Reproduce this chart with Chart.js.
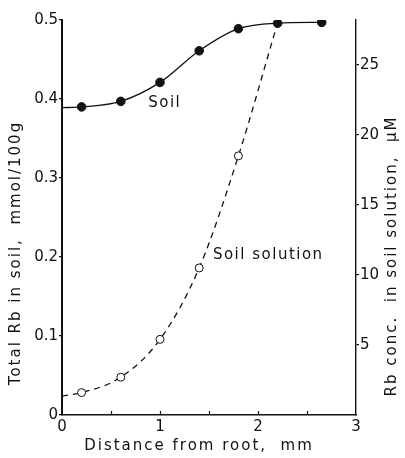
<!DOCTYPE html>
<html><head><meta charset="utf-8">
<script src="https://cdn.jsdelivr.net/npm/chart.js@4/dist/chart.umd.min.js"></script>
<style>html,body{margin:0;padding:0;background:#fff}#wrap{width:405px;height:458px}</style>
</head><body><div id="wrap"><canvas id="c" width="405" height="458"></canvas></div>
<script>
// Data
const soilDistance = [0, 0.2, 0.6, 1.0, 1.4, 1.8, 2.2, 2.65];
const soilTotal = [0.389, 0.390, 0.397, 0.421, 0.461, 0.489, 0.496, 0.497]; // mmol/100g
const solutionDistance = [0, 0.2, 0.6, 1.0, 1.4, 1.8, 2.2];
const solutionConc = [1.35, 1.6, 2.7, 5.4, 10.5, 18.5, 28.0]; // µM
const xTicks = [0, 1, 2, 3];
const leftTicks = [0, 0.1, 0.2, 0.3, 0.4, 0.5];
const rightTicks = [5, 10, 15, 20, 25];
const xTitle = 'Distance from root,  mm';
const leftTitle = 'Total Rb in soil,  mmol/100g';
const rightTitle = 'Rb conc.  in soil solution,  \u00b5M';
const labelSoil = 'Soil';
const labelSolution = 'Soil solution';

const FONT = '"DejaVu Sans", sans-serif';
const INK = '#111';

const helper = {
  id: 'helper',
  beforeInit(chart) { chart.ctx.letterSpacing = '1px'; },
  afterDraw(chart) {
    const ctx = chart.ctx, x = chart.scales.x, y = chart.scales.y;
    ctx.save();
    // inward minor ticks on x axis
    ctx.strokeStyle = INK; ctx.lineWidth = 1.2;
    [0.5, 1, 1.5, 2, 2.5].forEach(v => {
      const px = Math.round(x.getPixelForValue(v)) + 0.5;
      ctx.beginPath(); ctx.moveTo(px, y.bottom); ctx.lineTo(px, y.bottom - 4); ctx.stroke();
    });
    ctx.fillStyle = INK;
    ctx.letterSpacing = '1.5px';
    ctx.font = '15px ' + FONT;
    ctx.textBaseline = 'middle';
    ctx.textAlign = 'left';
    ctx.fillText(labelSoil, x.getPixelForValue(0.88), y.getPixelForValue(0.395));
    ctx.fillText(labelSolution, x.getPixelForValue(1.54), y.getPixelForValue(0.203));
    // axis titles
    ctx.letterSpacing = '2px';
    ctx.textAlign = 'center';
    ctx.fillText(xTitle, 199, 446);
    ctx.save();
    ctx.translate(16, 253); ctx.rotate(-Math.PI / 2);
    ctx.fillText(leftTitle, 0, 0);
    ctx.restore();
    ctx.save();
    ctx.translate(392, 256); ctx.rotate(-Math.PI / 2);
    ctx.fillText(rightTitle, 0, 0);
    ctx.restore();
    ctx.restore();
  }
};

new Chart(document.getElementById('c'), {
  type: 'line',
  data: {
    datasets: [
      {
        label: labelSoil,
        data: soilDistance.map((d, i) => ({x: d, y: soilTotal[i]})),
        yAxisID: 'y',
        borderColor: INK, borderWidth: 1.3,
        pointRadius: soilDistance.map((d, i) => i === 0 ? 0 : 4.3),
        pointBackgroundColor: INK, pointBorderColor: INK, pointBorderWidth: 1,
        cubicInterpolationMode: 'monotone', fill: false
      },
      {
        label: labelSolution,
        data: solutionDistance.map((d, i) => ({x: d, y: solutionConc[i]})),
        yAxisID: 'y2',
        borderColor: INK, borderWidth: 1.3, borderDash: [6, 5],
        pointRadius: solutionDistance.map((d, i) => (i === 0 || i === solutionDistance.length - 1) ? 0 : 4),
        pointBackgroundColor: '#fff', pointBorderColor: INK, pointBorderWidth: 1,
        cubicInterpolationMode: 'monotone', fill: false
      }
    ]
  },
  options: {
    responsive: false, animation: false, devicePixelRatio: 1,
    layout: {padding: {top: 20, left: 0, right: 0, bottom: 0}},
    plugins: {legend: {display: false}, tooltip: {enabled: false}},
    scales: {
      x: {
        type: 'linear', min: 0, max: 3,
        afterFit: s => { s.height = 43; },
        afterBuildTicks: s => { s.ticks = xTicks.map(v => ({value: v})); },
        ticks: {color: INK, font: {family: FONT, size: 15}, padding: 3, callback: v => String(v), maxRotation: 0},
        grid: {display: true, drawOnChartArea: false, drawTicks: false, color: INK},
        border: {display: true, color: INK, width: 1.6}
      },
      y: {
        type: 'linear', position: 'left', min: 0, max: 0.5,
        afterFit: s => { s.width = 62; },
        afterBuildTicks: s => { s.ticks = leftTicks.map(v => ({value: v})); },
        ticks: {color: INK, font: {family: FONT, size: 15}, padding: 1,
          callback: v => v === 0 ? '0' : Number(v).toFixed(1)},
        grid: {display: true, drawOnChartArea: false, drawTicks: true, tickLength: 3, color: INK, lineWidth: 1.2},
        border: {display: true, color: INK, width: 2}
      },
      y2: {
        type: 'linear', position: 'right', min: 0, max: 28.2,
        afterFit: s => { s.width = 49; },
        afterBuildTicks: s => { s.ticks = rightTicks.map(v => ({value: v})); },
        ticks: {color: INK, font: {family: FONT, size: 15}, padding: 1, callback: v => String(v)},
        grid: {display: true, drawOnChartArea: false, drawTicks: true, tickLength: 3, color: INK, lineWidth: 1.2},
        border: {display: true, color: INK, width: 1.4}
      }
    }
  },
  plugins: [helper]
});
</script>
</body></html>
